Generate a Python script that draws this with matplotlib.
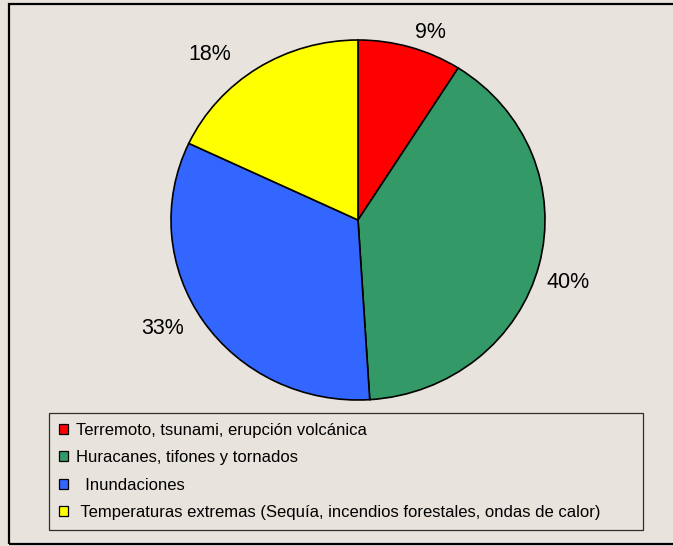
import matplotlib
matplotlib.use("Agg")
import matplotlib.pyplot as plt
from matplotlib.patches import Rectangle

# disaster categories and their share of events (%)
categories = [
    "Terremoto, tsunami, erupción volcánica",
    "Huracanes, tifones y tornados",
    "  Inundaciones",
    " Temperaturas extremas (Sequía, incendios forestales, ondas de calor)",
]
shares = [9, 40, 33, 18]
colors = ["#FF0000", "#339966", "#3366FF", "#FFFF00"]

bg = "#E8E4DD"
W, H = 673, 546

plt.rcParams["font.family"] = ["Liberation Sans", "DejaVu Sans"]

fig = plt.figure(figsize=(W / 100, H / 100), dpi=100, facecolor=bg)

# outer frame of the chart area
fig.patches.append(Rectangle((9 / W, 2 / H), 1.0, 540 / H, transform=fig.transFigure,
                             fill=False, edgecolor="black", linewidth=1.6))

# pie area: centre (358, 220) px, radii 187 x 180 px
cx, cy, rx, ry = 358, 220, 187, 180
ax = fig.add_axes([(cx - rx) / W, (H - cy - ry) / H, 2 * rx / W, 2 * ry / H])

wedges, texts, autotexts = ax.pie(
    shares, colors=colors, startangle=90, counterclock=False,
    autopct=lambda p: f"{p:.0f}%", pctdistance=1.17,
    wedgeprops=dict(edgecolor="black", linewidth=1.2),
    textprops=dict(fontsize=15.5, color="black"),
)
ax.set_aspect("auto")
ax.set_xlim(-1, 1)
ax.set_ylim(-1, 1)
ax.axis("off")

# percentage labels sit where the spreadsheet placed them
pct_pos = [(0.385, 1.044), (1.123, -0.35), (-1.043, -0.6), (-0.791, 0.917)]
for t, p in zip(autotexts, pct_pos):
    t.set_position(p)

leg = fig.legend(
    wedges, categories,
    loc="upper left",
    bbox_to_anchor=(49 / W, 18 / H, 594 / W, 115 / H),
    mode="expand", borderaxespad=0, fontsize=12,
    handlelength=0.55, handleheight=0.55, handletextpad=0.45,
    labelspacing=0.74, borderpad=0.6,
    fancybox=False, frameon=True, facecolor=bg, edgecolor="black",
)
leg.get_frame().set_linewidth(0.9)
for h in leg.legend_handles:
    h.set_linewidth(0.9)

fig.savefig("out.png", dpi=100, facecolor=bg)
